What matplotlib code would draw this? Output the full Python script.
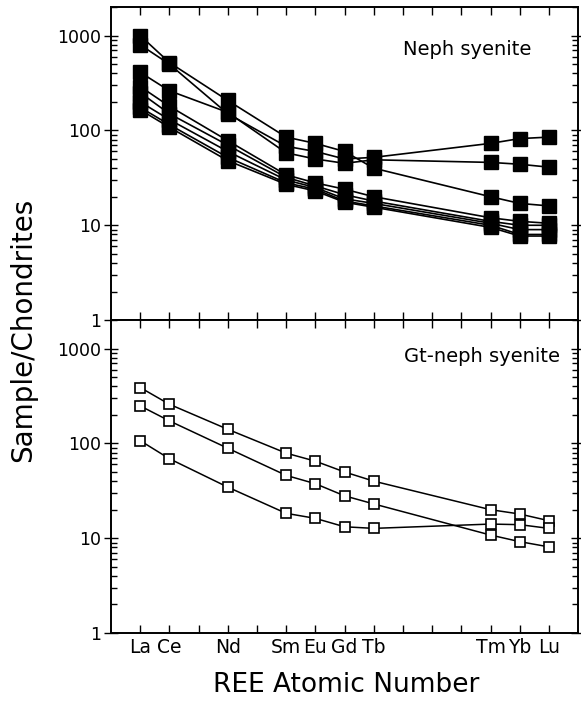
import numpy as np
import matplotlib.pyplot as plt
from matplotlib.ticker import FixedLocator, FixedFormatter, LogLocator, NullFormatter

plt.rcParams['font.family'] = 'DejaVu Sans'

# REE positions along the atomic-number axis (La=0 ... Lu=14)
elements = ['La', 'Ce', 'Nd', 'Sm', 'Eu', 'Gd', 'Tb', 'Tm', 'Yb', 'Lu']
positions = [0, 1, 3, 5, 6, 7, 8, 12, 13, 14]

# chondrite-normalised values, nepheline syenites
neph = [
    [1000, 520, 207, 85, 73, 60, 40, 20, 17, 16],
    [800, 500, 150, 68, 60, 50, 52, 73, 82, 85],
    [410, 262, 155, 58, 50, 45, 49, 46, 44, 41],
    [290, 180, 78, 34, 28, 24, 20, 12, 11, 10.5],
    [250, 150, 70, 32, 26, 21, 18, 11, 10, 10],
    [200, 130, 60, 30, 25, 19, 17, 10.5, 9, 9],
    [175, 115, 52, 28, 24, 18, 16, 10, 8, 8],
    [165, 108, 48, 27, 23, 17.5, 15.5, 9.5, 7.7, 7.7],
]

# garnet-nepheline syenites
gt_neph = [
    [389, 259, 141, 79, 65, 50, 40, 20, 18, 15.3],
    [249, 173, 89, 46, 37.6, 28, 23, 10.8, 9.2, 8.1],
    [107, 69, 34.6, 18.3, 16.2, 13.2, 12.7, 14.1, 13.9, 12.7],
]

fig = plt.figure(figsize=(5.81, 7.02), dpi=100)
ax1 = fig.add_axes([0.191, 0.544, 0.804, 0.446])
ax2 = fig.add_axes([0.191, 0.0983, 0.804, 0.4457])


def style_axis(ax):
    ax.set_yscale('log')
    ax.set_ylim(1, 2000)
    ax.set_xlim(-1, 15)
    ax.yaxis.set_major_locator(FixedLocator([1, 10, 100, 1000]))
    ax.yaxis.set_major_formatter(FixedFormatter(['1', '10', '100', '1000']))
    ax.yaxis.set_minor_locator(LogLocator(base=10, subs=np.arange(2, 10)))
    ax.yaxis.set_minor_formatter(NullFormatter())
    ax.xaxis.set_major_locator(FixedLocator(list(range(15))))
    ax.tick_params(axis='y', which='major', direction='inout', length=10, width=1,
                   left=True, right=True, labelsize=12.5, pad=2)
    ax.tick_params(axis='y', which='minor', direction='in', length=4, width=1,
                   left=True, right=True)
    ax.tick_params(axis='x', which='major', direction='in', length=6, width=1,
                   top=True, bottom=True, labelsize=13.5)
    for sp in ax.spines.values():
        sp.set_linewidth(1.4)


style_axis(ax1)
style_axis(ax2)

for vals in neph:
    ax1.plot(positions, vals, color='black', lw=1.2, marker='s', ms=9.5,
             mfc='black', mec='black')

for vals in gt_neph:
    ax2.plot(positions, vals, color='black', lw=1.1, marker='s', ms=7,
             mfc='white', mec='black', mew=1.2)

ax1.set_xticklabels([])
labels = [''] * 15
for p, el in zip(positions, elements):
    labels[p] = el
ax2.set_xticklabels(labels)

ax1.text(0.901, 0.847, 'Neph syenite', transform=ax1.transAxes,
         ha='right', va='baseline', fontsize=14)
ax2.text(0.961, 0.866, 'Gt-neph syenite', transform=ax2.transAxes,
         ha='right', va='baseline', fontsize=14)

fig.text(0.0396, 0.53, 'Sample/Chondrites', rotation=90, ha='center',
         va='center', fontsize=20)
fig.text(0.596, 0.0142, 'REE Atomic Number', ha='center', va='baseline',
         fontsize=19)

fig.savefig('out.png', dpi=100)
